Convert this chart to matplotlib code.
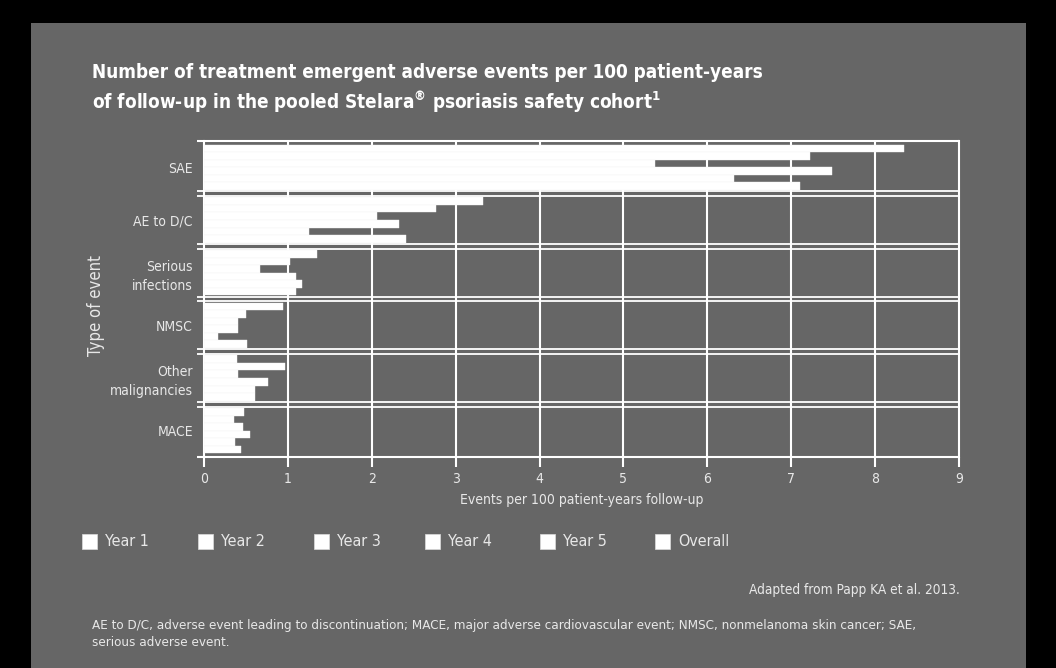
import matplotlib
matplotlib.use("Agg")
import matplotlib.pyplot as plt
import numpy as np

# data
categories = ['SAE', 'AE to D/C', 'Serious\ninfections', 'NMSC', 'Other\nmalignancies', 'MACE']
series_names = ['Year 1', 'Year 2', 'Year 3', 'Year 4', 'Year 5', 'Overall']
year1 = [8.35, 3.33, 1.35, 0.94, 0.39, 0.48]
year2 = [7.22, 2.77, 1.03, 0.50, 0.96, 0.36]
year3 = [5.38, 2.06, 0.67, 0.41, 0.41, 0.47]
year4 = [7.49, 2.32, 1.10, 0.41, 0.76, 0.55]
year5 = [6.32, 1.25, 1.17, 0.17, 0.61, 0.37]
overall = [7.10, 2.41, 1.10, 0.51, 0.61, 0.44]
series = [year1, year2, year3, year4, year5, overall]
xticks = list(range(0, 10))

plt.rcParams['font.family'] = ['DejaVu Sans']
plt.rcParams['font.stretch'] = 'condensed'

bg = '#666666'
fg = 'white'
txt = '#e8e8e8'

fig = plt.figure(figsize=(10.56, 6.68), dpi=100, facecolor='black')
# grey panel
fig.patches.append(plt.Rectangle((31 / 1056, 0), (1026 - 31) / 1056, 1 - 23 / 668,
                                 transform=fig.transFigure, facecolor=bg,
                                 edgecolor='none', zorder=-5))

ax = fig.add_axes([204 / 1056, 1 - 457 / 668, (959 - 204) / 1056, (457 - 141) / 668])
ax.set_facecolor(bg)
ax.set_zorder(2)

n = len(categories)
nser = len(series)
margin = 0.069
bh = (1 - 2 * margin) / nser
for j, vals in enumerate(series):
    ys = np.arange(n) + margin + (j + 0.5) * bh
    ax.barh(ys, vals, height=bh, color='white', edgecolor='#f4f4f4',
            linewidth=0.3, zorder=3, label=series_names[j])

ax.set_xlim(0, 9)
ax.set_ylim(n, 0)

# vertical grid
for x in xticks[1:-1]:
    ax.axvline(x, color=fg, lw=1.5, zorder=2)

# double lines at category boundaries
d = 0.047
for b in range(1, n):
    for off in (-d, d):
        ax.plot([-0.085, 9], [b + off, b + off], color=fg, lw=1.3,
                clip_on=False, zorder=4, solid_capstyle='butt')
for b in (0, n):
    ax.plot([-0.085, 9], [b, b], color=fg, lw=1.5, clip_on=False, zorder=4,
            solid_capstyle='butt')

for s in ax.spines.values():
    s.set_color(fg)
    s.set_linewidth(1.5)
ax.spines['top'].set_visible(False)
ax.spines['bottom'].set_visible(False)

ax.set_yticks(np.arange(n) + 0.5)
ax.set_yticklabels(categories, color=txt, fontsize=10, linespacing=1.45)
ax.tick_params(axis='y', length=0, pad=8)
ax.set_xticks(xticks)
ax.set_xticklabels([str(x) for x in xticks], color=txt, fontsize=10)
ax.tick_params(axis='x', length=7, width=1.5, color=fg, pad=4)

ax.set_xlabel('Events per 100 patient-years follow-up', color=txt, fontsize=10, labelpad=5)
fig.text(96 / 1056, 1 - 305 / 668, 'Type of event', rotation=90, color=txt,
         fontsize=12, ha='center', va='center')

fig.text(92 / 1056, 1 - 73 / 668,
         'Number of treatment emergent adverse events per 100 patient-years',
         color='white', fontsize=13.6, fontweight='bold', va='center')
fig.text(92 / 1056, 1 - 102 / 668,
         'of follow-up in the pooled Stelara$^{\\mathregular{\u00ae}}$ psoriasis safety '
         'cohort$^{\\mathregular{1}}$',
         color='white', fontsize=13.6, fontweight='bold', va='center')

# legend
leg_x = [82, 198, 314, 425, 540, 655]
for xpos, name in zip(leg_x, series_names):
    fig.patches.append(plt.Rectangle((xpos / 1056, 1 - 549 / 668), 15 / 1056, 15 / 668,
                                     transform=fig.transFigure, facecolor='white',
                                     edgecolor='#dddddd', lw=0.5, zorder=3))
    fig.text((xpos + 23) / 1056, 1 - 541 / 668, name, color=txt, fontsize=11.5,
             va='center')

fig.text(960 / 1056, 1 - 590 / 668, 'Adapted from Papp KA et al. 2013.', color=txt,
         fontsize=9.8, ha='right', va='center')
fig.text(92 / 1056, 1 - 625 / 668,
         'AE to D/C, adverse event leading to discontinuation; MACE, major adverse cardiovascular '
         'event; NMSC, nonmelanoma skin cancer; SAE,', color=txt, fontsize=9.6, va='center')
fig.text(92 / 1056, 1 - 642 / 668, 'serious adverse event.', color=txt, fontsize=9.6,
         va='center')

fig.savefig('out.png', dpi=100, facecolor='black')
